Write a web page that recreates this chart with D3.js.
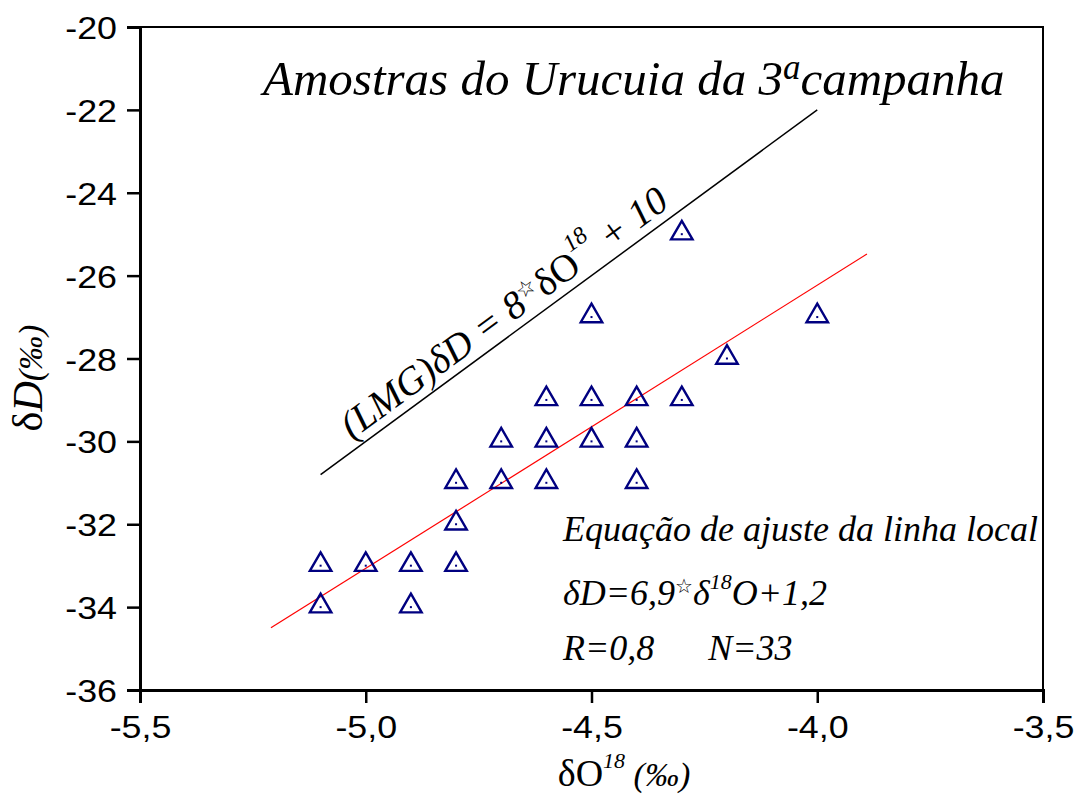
<!DOCTYPE html>
<html>
<head>
<meta charset="utf-8">
<script src="https://cdn.jsdelivr.net/npm/d3@7"></script>
<style>
  body { margin: 0; background: #fff; }
  svg { display: block; }
  .tick text { font-family: "Liberation Sans", Arial, sans-serif; }
  .script { font-family: "Liberation Serif", "DejaVu Serif", serif; font-style: italic; }
</style>
</head>
<body>
<svg id="viz" width="1079" height="794"></svg>
<script>
// δ18O (x) and δD (y) of the 3rd campaign samples
const d18O = [-5.1, -5.1, -5.0, -4.9, -4.9, -4.8, -4.8, -4.8, -4.7, -4.7,
              -4.6, -4.6, -4.6, -4.5, -4.5, -4.5, -4.4, -4.4, -4.4, -4.3,
              -4.3, -4.2, -4.0];
const dD   = [-33, -34, -33, -33, -34, -31, -32, -33, -30, -31,
              -29, -30, -31, -27, -29, -30, -29, -30, -31, -25,
              -29, -28, -27];

// meteoric water line (LMG) end points: dD = 8*d18O + 10
const lmgX = [-5.1, -4.0];
const lmgY = lmgX.map(x => 8 * x + 10);

// local fit line end points
const fitX = [-5.21, -3.89];
const fitY = [-34.5, -25.48];

const xTicks = [-5.5, -5.0, -4.5, -4.0, -3.5];
const yTicks = [-36, -34, -32, -30, -28, -26, -24, -22, -20];

const svg = d3.select("#viz");
const plot = { left: 140, right: 1043, top: 27, bottom: 690 };

const x = d3.scaleLinear().domain([-5.5, -3.5]).range([plot.left, plot.right]);
const y = d3.scaleLinear().domain([-36, -20]).range([plot.bottom, plot.top]);

const fmt = d => d3.format(".1f")(d).replace("−", "-").replace(".", ",");

// frame
svg.append("rect")
  .attr("x", plot.left).attr("y", plot.top)
  .attr("width", plot.right - plot.left).attr("height", plot.bottom - plot.top)
  .attr("fill", "none").attr("stroke", "#000").attr("stroke-width", 2);

// axes
const xAxis = svg.append("g")
  .attr("transform", `translate(0,${plot.bottom})`)
  .call(d3.axisBottom(x).tickValues(xTicks).tickSize(13).tickPadding(12).tickFormat(fmt));
const yAxis = svg.append("g")
  .attr("transform", `translate(${plot.left},0)`)
  .call(d3.axisLeft(y).tickValues(yTicks).tickSize(13).tickPadding(10)
    .tickFormat(d => String(d).replace("−", "-")));

[xAxis, yAxis].forEach(g => {
  g.select(".domain").attr("stroke-width", 3);
  g.selectAll(".tick line").attr("stroke-width", 2.5);
  g.selectAll(".tick text").attr("font-size", 32).attr("fill", "#000");
});
// the original tick labels are a bit wider than Arial
xAxis.selectAll(".tick text").attr("dy", "0.71em")
  .attr("transform", "scale(1.12,1)");
yAxis.selectAll(".tick text").attr("dy", "0.36em")
  .attr("transform", function() { const tx = +this.getAttribute("x"); return `translate(${tx},0) scale(1.12,1) translate(${-tx},0)`; });

// lines
const line = d3.line().x(d => x(d[0])).y(d => y(d[1]));
svg.append("path")
  .attr("d", line(d3.zip(lmgX, lmgY)))
  .attr("stroke", "#000").attr("stroke-width", 1.5).attr("fill", "none");
svg.append("path")
  .attr("d", line(d3.zip(fitX, fitY)))
  .attr("stroke", "#ff0000").attr("stroke-width", 1.2).attr("fill", "none");

// triangle markers
const pts = d3.zip(d18O, dD);
const tri = d3.symbol(d3.symbolTriangle, 200);
const marks = svg.append("g");
marks.selectAll("path")
  .data(pts)
  .join("path")
  .attr("d", tri)
  .attr("transform", d => `translate(${x(d[0])},${y(d[1]) - 1})`)
  .attr("fill", "none").attr("stroke", "#000080").attr("stroke-width", 2.4);
marks.selectAll("rect")
  .data(pts)
  .join("rect")
  .attr("x", d => x(d[0]) - 1).attr("y", d => y(d[1]) - 1)
  .attr("width", 2).attr("height", 2)
  .attr("fill", "#000080");

// title
const title = svg.append("text").attr("class", "script")
  .attr("x", 263).attr("y", 95).attr("font-size", 49).attr("fill", "#000");
title.append("tspan").text("Amostras do Urucuia da 3");
title.append("tspan").attr("dy", -16).attr("font-size", 35).text("a");
title.append("tspan").attr("dy", 16).text("campanha");

// LMG label along the line
const ang = Math.atan2(y(lmgY[1]) - y(lmgY[0]), x(lmgX[1]) - x(lmgX[0])) * 180 / Math.PI;
const lmg = svg.append("text").attr("class", "script")
  .attr("transform", `translate(352,440) rotate(${ang})`)
  .attr("font-size", 39).attr("fill", "#000");
lmg.append("tspan").text("(LMG)δD = 8");
lmg.append("tspan").attr("font-style", "normal").attr("font-size", 22).attr("dy", -12).text("☆");
lmg.append("tspan").attr("dy", 12).attr("font-style", "normal").text("δO");
lmg.append("tspan").attr("font-size", 24).attr("dy", -22).text("18");
lmg.append("tspan").attr("dy", 22).text(" + 10");

// local fit annotation
const ann = { x: 563, size: 36 };
svg.append("text").attr("class", "script")
  .attr("x", ann.x).attr("y", 541).attr("font-size", ann.size).text("Equação de ajuste da linha local");
const eq = svg.append("text").attr("class", "script")
  .attr("x", ann.x).attr("y", 605).attr("font-size", ann.size);
eq.append("tspan").text("δD=6,9");
eq.append("tspan").attr("font-style", "normal").attr("font-size", 20).attr("dy", -12).text("☆");
eq.append("tspan").attr("dy", 12).text("δ");
eq.append("tspan").attr("font-size", 22).attr("dy", -16).text("18");
eq.append("tspan").attr("dy", 16).text("O+1,2");
svg.append("text").attr("class", "script")
  .attr("x", ann.x).attr("y", 660).attr("font-size", ann.size)
  .attr("xml:space", "preserve").text("R=0,8      N=33");

// axis titles
const xt = svg.append("text").attr("class", "script")
  .attr("x", 624).attr("y", 786).attr("text-anchor", "middle").attr("font-size", 38);
xt.append("tspan").attr("font-style", "normal").text("δO");
xt.append("tspan").attr("font-size", 22).attr("dy", -18).text("18");
xt.append("tspan").attr("dy", 18).attr("font-size", 34).text(" (‰)");

const yt = svg.append("text").attr("class", "script")
  .attr("transform", "translate(42,378) rotate(-90)")
  .attr("text-anchor", "middle").attr("font-size", 42);
yt.append("tspan").attr("font-style", "normal").text("δ");
yt.append("tspan").text("D");
yt.append("tspan").attr("font-size", 34).text("(‰)");
</script>
</body>
</html>
